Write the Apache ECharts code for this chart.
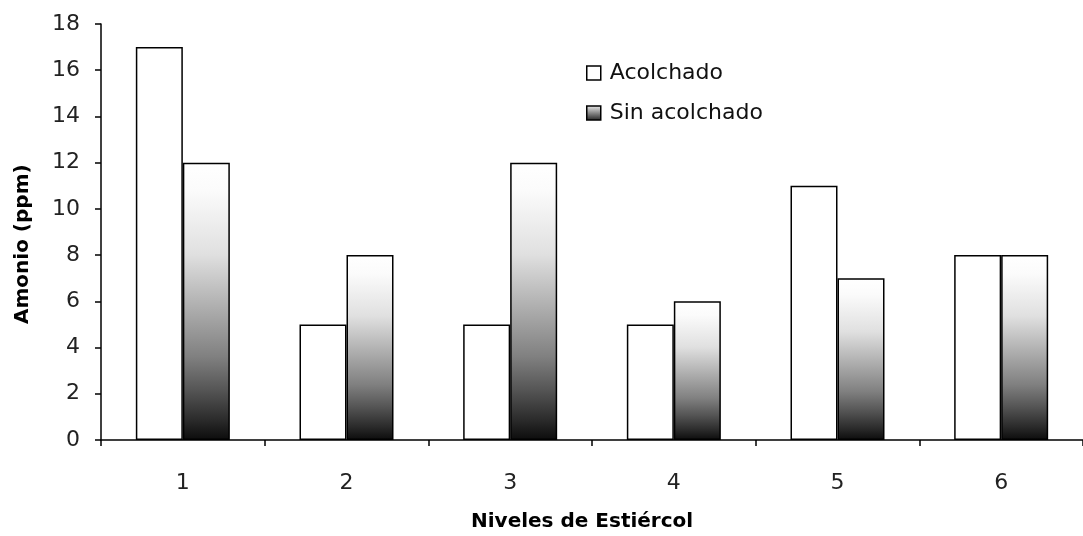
<!DOCTYPE html>
<html>
<head>
<meta charset="utf-8">
<script src="https://cdn.jsdelivr.net/npm/echarts@6/dist/echarts.min.js"></script>
<style>
  html, body { margin: 0; padding: 0; background: #fff; }
  #chart { width: 1083px; height: 536px; }
</style>
</head>
<body>
<div id="chart"></div>
<script>
// Ammonium (ppm) by manure level, with and without mulch
const categories = ['1', '2', '3', '4', '5', '6'];
const acolchado = [17, 5, 5, 5, 11, 8];
const sinAcolchado = [12, 8, 12, 6, 7, 8];
const yTicks = { min: 0, max: 18, interval: 2 };
const xTitle = 'Niveles de Estiércol';
const yTitle = 'Amonio (ppm)';

const font = '"DejaVu Sans", Verdana, sans-serif';

// white at the top fading to near black at the base of each bar
const darkGradient = new echarts.graphic.LinearGradient(0, 0, 0, 1, [
  { offset: 0, color: '#ffffff' },
  { offset: 0.1, color: '#fbfbfb' },
  { offset: 0.33, color: '#e0e0e0' },
  { offset: 0.5, color: '#b4b4b4' },
  { offset: 0.7, color: '#808080' },
  { offset: 0.82, color: '#555555' },
  { offset: 0.93, color: '#2a2a2a' },
  { offset: 1, color: '#0c0c0c' }
]);

const chart = echarts.init(document.getElementById('chart'), null, { renderer: 'canvas' });
chart.setOption({
  backgroundColor: '#ffffff',
  animation: false,
  grid: { left: 101, top: 24, width: 992, height: 416, containLabel: false },
  legend: {
    orient: 'vertical',
    left: 586,
    top: 62,
    padding: 0,
    icon: 'rect',
    itemWidth: 14,
    itemHeight: 14,
    itemGap: 18,
    textStyle: { fontFamily: font, fontSize: 22, color: '#111', padding: [0, 0, 0, 4] },
    data: [
      { name: 'Acolchado', itemStyle: { color: '#fff', borderColor: '#000', borderWidth: 1.5 } },
      { name: 'Sin acolchado', itemStyle: { color: new echarts.graphic.LinearGradient(0, 0, 0, 1, [
        { offset: 0, color: '#f0f0f0' }, { offset: 1, color: '#202020' }]), borderColor: '#000', borderWidth: 1.5 } }
    ]
  },
  graphic: [
    {
      type: 'text',
      left: 471,
      top: 512,
      style: { text: xTitle, font: 'bold 20px ' + font, fill: '#000' }
    },
    {
      type: 'text',
      rotation: Math.PI / 2,
      x: 23,
      y: 324,
      originX: 0,
      originY: 0,
      style: { text: yTitle, font: 'bold 20px ' + font, fill: '#000', textVerticalAlign: 'middle' }
    }
  ],
  xAxis: {
    type: 'category',
    data: categories,
    axisLine: { lineStyle: { color: '#000', width: 1.5 } },
    axisTick: { show: true, alignWithLabel: false, length: 6, lineStyle: { color: '#000', width: 1.5 } },
    axisLabel: { fontFamily: font, fontSize: 22, color: '#222', margin: 32 },
    splitLine: { show: false }
  },
  yAxis: {
    type: 'value',
    min: yTicks.min,
    max: yTicks.max,
    interval: yTicks.interval,
    axisLine: { show: true, lineStyle: { color: '#000', width: 1.5 } },
    axisTick: { show: true, length: 6, lineStyle: { color: '#000', width: 1.5 } },
    axisLabel: { fontFamily: font, fontSize: 22, color: '#222', margin: 21 },
    splitLine: { show: false }
  },
  series: [
    {
      name: 'Acolchado',
      type: 'bar',
      data: acolchado,
      barWidth: 47,
      barGap: '0%',
      itemStyle: { color: '#ffffff', borderColor: '#000', borderWidth: 1.5 }
    },
    {
      name: 'Sin acolchado',
      type: 'bar',
      data: sinAcolchado,
      barWidth: 47,
      barGap: '0%',
      itemStyle: { color: darkGradient, borderColor: '#000', borderWidth: 1.5 }
    }
  ]
});
</script>
</body>
</html>
